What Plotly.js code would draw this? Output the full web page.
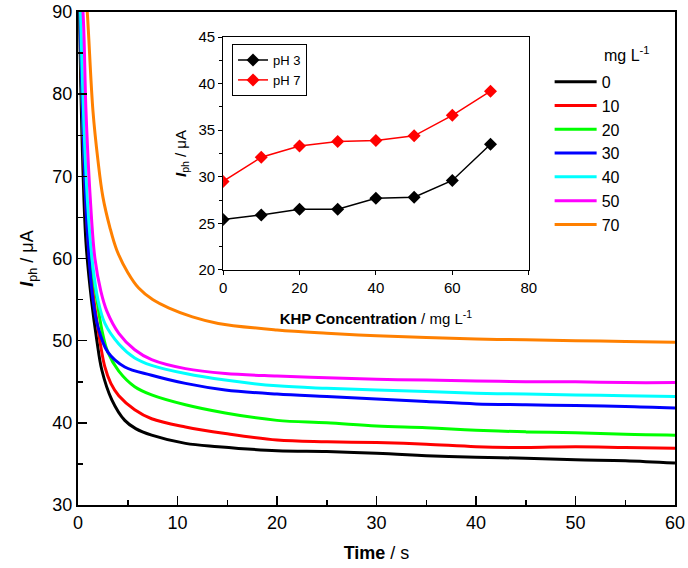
<!DOCTYPE html>
<html>
<head>
<meta charset="utf-8">
<script src="https://cdn.plot.ly/plotly-3.0.1.min.js"></script>
<style>html,body{margin:0;padding:0;background:#fff;}#chart{width:688px;height:568px;}</style>
</head>
<body>
<div id="chart"></div>
<script>
// Main chart: photocurrent vs time for KHP concentrations (mg L-1)
const seriesNames = ["0", "10", "20", "30", "40", "50", "70"];
const seriesColors = ["#000000", "#FF0000", "#00FF00", "#0000FF", "#00FFFF", "#FF00FF", "#FF8000"];

const t0 = [0.1, 0.15, 0.4, 0.8, 1.35, 1.9, 2.4, 3.4, 4.7, 5.8, 7.4, 10.8, 14.1, 20, 25, 30, 35, 40, 45, 50, 55, 60];
const y0 = [95, 90, 75, 62, 55, 50, 46.4, 42.8, 40.3, 39.3, 38.5, 37.5, 37.1, 36.6, 36.5, 36.3, 36.0, 35.8, 35.7, 35.5, 35.4, 35.1];

const t10 = [0.1, 0.2, 0.5, 0.9, 1.4, 2.0, 2.7, 3.3, 4.1, 5.7, 7.4, 10.8, 14.8, 20, 25, 30, 35, 40, 45, 50, 55, 60];
const y10 = [95, 90, 75, 64, 57, 51.5, 46.8, 44.8, 43.3, 41.6, 40.5, 39.5, 38.7, 37.9, 37.7, 37.6, 37.4, 37.1, 37.0, 37.1, 37.0, 36.9];

const t20 = [0.1, 0.2, 0.5, 0.9, 1.4, 1.9, 2.4, 3.0, 4.1, 5.7, 7.4, 10.8, 14.8, 20, 25, 30, 35, 40, 45, 50, 55, 60];
const y20 = [95, 90, 76, 66, 59, 55, 51.3, 48.6, 46.3, 44.4, 43.4, 42.2, 41.2, 40.3, 40.0, 39.6, 39.4, 39.1, 38.9, 38.8, 38.6, 38.5];

const t30 = [0.1, 0.2, 0.5, 0.9, 1.5, 2.0, 3.0, 4.7, 7.4, 10.8, 14.8, 20, 25, 30, 35, 40, 45, 50, 55, 60];
const y30 = [95, 90, 76, 64, 55, 51.7, 48.6, 46.8, 45.8, 44.8, 44.0, 43.5, 43.2, 42.9, 42.6, 42.3, 42.2, 42.1, 42.0, 41.8];

const t40 = [0.1, 0.25, 0.6, 1.0, 1.5, 2.0, 2.7, 4.1, 5.7, 7.4, 10.8, 14.8, 20, 25, 30, 35, 40, 45, 50, 55, 60];
const y40 = [95, 90, 76, 66, 59, 55, 52.1, 49.6, 47.9, 47.0, 46.0, 45.2, 44.5, 44.2, 44.0, 43.8, 43.6, 43.5, 43.4, 43.3, 43.2];

const t50 = [0.1, 0.5, 0.8, 1.2, 1.7, 2.3, 2.9, 4.1, 5.7, 7.4, 10.8, 14.8, 20, 25, 30, 35, 40, 45, 50, 55, 60];
const y50 = [95, 90, 78, 68, 60, 56, 53.6, 50.9, 48.9, 47.7, 46.6, 46.0, 45.7, 45.5, 45.3, 45.2, 45.1, 45.0, 45.0, 44.9, 44.9];

const t70 = [0.6, 0.93, 1.5, 2.0, 2.5, 3.2, 3.9, 5.0, 6.1, 7.5, 9.1, 11.5, 14.1, 20, 25, 30, 35, 40, 45, 50, 55, 60];
const y70 = [95, 90, 78, 72, 67.5, 63.8, 61, 58.3, 56.4, 55.0, 54.0, 52.9, 52.1, 51.3, 50.9, 50.6, 50.4, 50.2, 50.1, 50.0, 49.9, 49.8];

const timeData = [t0, t10, t20, t30, t40, t50, t70];
const currentData = [y0, y10, y20, y30, y40, y50, y70];

// Inset: photocurrent vs KHP concentration
const khpConc = [0, 10, 20, 30, 40, 50, 60, 70];
const pH3 = [25.4, 25.9, 26.5, 26.5, 27.7, 27.8, 29.6, 33.5];
const pH7 = [29.5, 32.1, 33.3, 33.8, 33.9, 34.4, 36.6, 39.2];

const FONT = "Arial, 'Liberation Sans', sans-serif";

const traces = [];
for (let i = 0; i < seriesNames.length; i++) {
  traces.push({
    x: timeData[i], y: currentData[i], type: "scatter", mode: "lines",
    name: seriesNames[i], line: {color: seriesColors[i], width: 3, shape: "spline", smoothing: 1.0},
    xaxis: "x", yaxis: "y", legend: "legend"
  });
}
traces.push({
  x: khpConc, y: pH3, type: "scatter", mode: "lines+markers", name: "pH 3",
  line: {color: "#000000", width: 1.5}, marker: {symbol: "diamond", size: 10, color: "#000000"},
  xaxis: "x2", yaxis: "y2", legend: "legend2"
});
traces.push({
  x: khpConc, y: pH7, type: "scatter", mode: "lines+markers", name: "pH 7",
  line: {color: "#FF0000", width: 1.5}, marker: {symbol: "diamond", size: 10, color: "#FF0000"},
  xaxis: "x2", yaxis: "y2", legend: "legend2"
});

const layout = {
  width: 688, height: 568,
  margin: {l: 78, r: 13, t: 12, b: 63},
  paper_bgcolor: "#ffffff", plot_bgcolor: "rgba(0,0,0,0)",
  font: {family: FONT, color: "#000000", size: 18},
  showlegend: true,
  xaxis: {
    domain: [0, 1], range: [0, 60], dtick: 10, tick0: 0,
    ticks: "inside", ticklen: 9, tickwidth: 1.5, tickcolor: "#000",
    minor: {dtick: 5, ticks: "inside", ticklen: 5, tickwidth: 1.5, tickcolor: "#000"},
    showline: true, linewidth: 2, linecolor: "#000", mirror: true,
    showgrid: false, zeroline: false, tickfont: {size: 18, family: FONT},
    title: {text: "<b>Time</b> / s", font: {size: 18, family: FONT}, standoff: 15}
  },
  yaxis: {
    domain: [0, 1], range: [30, 90], dtick: 10, tick0: 30,
    ticks: "inside", ticklen: 9, tickwidth: 1.5, tickcolor: "#000",
    minor: {dtick: 5, ticks: "inside", ticklen: 5, tickwidth: 1.5, tickcolor: "#000"},
    showline: true, linewidth: 2, linecolor: "#000", mirror: true,
    showgrid: false, zeroline: false, tickfont: {size: 18, family: FONT},
    title: {text: "<b><i>I</i></b><sub>ph</sub> / μA", font: {size: 18, family: FONT}, standoff: 14}
  },
  xaxis2: {
    domain: [0.243, 0.755], anchor: "y2", range: [0, 80], dtick: 20, tick0: 0,
    ticks: "outside", ticklen: 4, tickwidth: 1, tickcolor: "#000",
    showline: true, linewidth: 1, linecolor: "#000", mirror: true,
    showgrid: false, zeroline: false, tickfont: {size: 15, family: FONT},
    title: {text: "<b>KHP Concentration</b> / mg L<sup>-1</sup>", font: {size: 15, family: FONT}, standoff: 18}
  },
  yaxis2: {
    domain: [0.477, 0.949], anchor: "x2", range: [20, 45], dtick: 5, tick0: 20,
    ticks: "outside", ticklen: 4, tickwidth: 1, tickcolor: "#000",
    minor: {dtick: 2.5, ticks: "outside", ticklen: 3, tickwidth: 1, tickcolor: "#000"},
    showline: true, linewidth: 1, linecolor: "#000", mirror: true,
    showgrid: false, zeroline: false, tickfont: {size: 15, family: FONT},
    title: {text: "<b><i>I</i></b><sub>ph</sub> / μA", font: {size: 15, family: FONT}, standoff: 8}
  },
  legend: {
    x: 0.79, y: 0.893, xanchor: "left", yanchor: "top",
    bgcolor: "rgba(0,0,0,0)", borderwidth: 0,
    font: {size: 16, family: FONT}, tracegroupgap: 0, itemwidth: 42
  },
  legend2: {
    x: 0.258, y: 0.935, xanchor: "left", yanchor: "top",
    bgcolor: "#ffffff", bordercolor: "#000", borderwidth: 1,
    font: {size: 13, family: FONT}, tracegroupgap: 0
  },
  annotations: [{
    xref: "paper", yref: "paper", x: 0.962, y: 0.94, xanchor: "right", yanchor: "top",
    text: "mg L<sup>-1</sup>", showarrow: false, font: {size: 16, family: FONT}
  }]
};

Plotly.newPlot("chart", traces, layout, {displayModeBar: false, staticPlot: true});
</script>
</body>
</html>
